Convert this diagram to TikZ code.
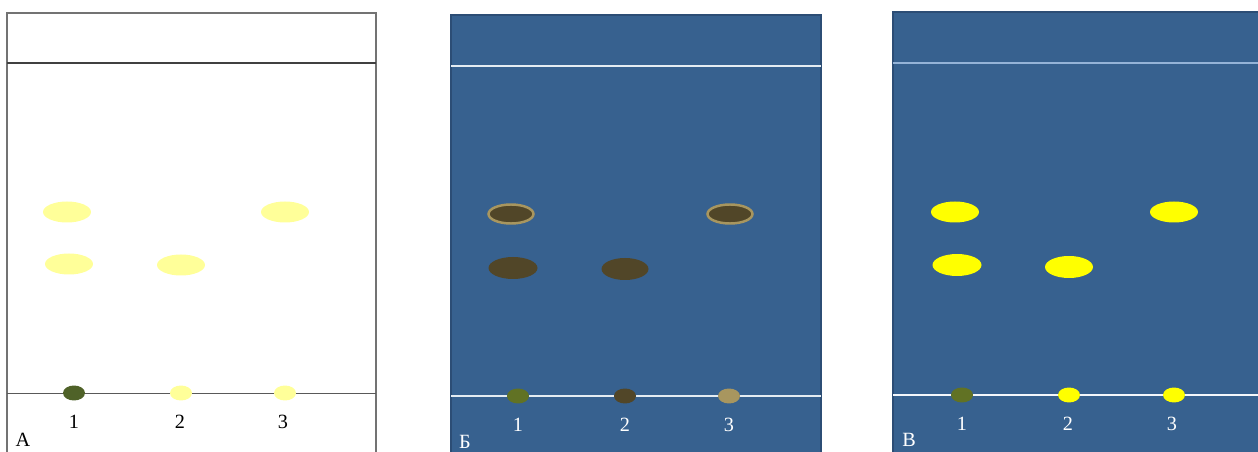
\documentclass[tikz,border=0pt]{standalone}
\usepackage{fontspec}
\setmainfont{Liberation Serif}
\usetikzlibrary{shapes.geometric}
\definecolor{paleyel}{HTML}{FFFF99}
\definecolor{olivesp}{HTML}{4F6228}
\definecolor{plate}{HTML}{37618F}
\definecolor{plateedge}{HTML}{2C4D75}
\definecolor{brownsp}{HTML}{514628}
\definecolor{tansp}{HTML}{A8965F}
\definecolor{lineB}{HTML}{E4ECF2}
\definecolor{lineV}{HTML}{95B3D7}
\definecolor{brightyel}{HTML}{FFFF00}
\tikzset{
  spot/.style={ellipse, inner sep=0pt, minimum width=0.96cm, minimum height=0.42cm},
  dot/.style={ellipse, inner sep=0pt, minimum width=0.44cm, minimum height=0.30cm},
  lab/.style={inner sep=0pt, font=\fontsize{11.5}{13}\selectfont},
}
\begin{document}
\begin{tikzpicture}[x=0.02cm,y=-0.02cm]
\useasboundingbox (0,0) rectangle (1258,452);
\fill[white] (0,0) rectangle (1258,452);
% ---------- Panel A ----------
\draw[gray!90!black, line width=0.6pt] (7,470) -- (7,13) -- (376,13) -- (376,470);
\draw[black!75, line width=0.6pt] (7,63) -- (376,63);
\draw[black!65, line width=0.5pt] (7,393) -- (376,393);
\node[spot, fill=paleyel] (a1u) at (67,212) {};
\node[spot, fill=paleyel] (a1l) at (69,264) {};
\node[spot, fill=paleyel] (a2l) at (181,265) {};
\node[spot, fill=paleyel] (a3u) at (285,212) {};
\node[dot, fill=olivesp] (a1s) at (74,393) {};
\node[dot, fill=paleyel] (a2s) at (181,393) {};
\node[dot, fill=paleyel] (a3s) at (285,393) {};
\node[lab] (a1t) at (74,422) {1};
\node[lab] (a2t) at (180,422) {2};
\node[lab] (a3t) at (283,422) {3};
\node[lab] (aL) at (23,440) {А};
% ---------- Panel B ----------
\fill[plate] (451,15) rectangle (821,470);
\draw[plateedge, line width=0.6pt] (451,470) -- (451,15) -- (821,15) -- (821,470);
\draw[lineB, line width=0.6pt] (451,66) -- (821,66);
\draw[lineB, line width=0.6pt] (451,396) -- (821,396);
\node[spot, fill=brownsp, draw=tansp, line width=1.4pt, minimum width=0.9cm, minimum height=0.38cm] (b1u) at (511,214) {};
\node[spot, fill=brownsp, draw=tansp, line width=1.4pt, minimum width=0.9cm, minimum height=0.38cm] (b3u) at (730,214) {};
\node[spot, fill=brownsp, minimum width=0.98cm, minimum height=0.44cm] (b1l) at (513,268) {};
\node[spot, fill=brownsp, minimum width=0.94cm, minimum height=0.44cm] (b2l) at (625,269) {};
\node[dot, fill=olivesp!90!yellow] (b1s) at (518,396) {};
\node[dot, fill=brownsp] (b2s) at (625,396) {};
\node[dot, fill=tansp] (b3s) at (729,396) {};
\node[lab, text=white] (b1t) at (518,425) {1};
\node[lab, text=white] (b2t) at (625,425) {2};
\node[lab, text=white] (b3t) at (729,425) {3};
\node[lab, text=white] (bL) at (465,442) {Б};
% ---------- Panel V ----------
\fill[plate] (893,12) rectangle (1270,470);
\draw[plateedge, line width=0.6pt] (893,470) -- (893,12) -- (1270,12);
\draw[lineV, line width=0.8pt] (893,63) -- (1270,63);
\draw[white!90!lineV, line width=0.6pt] (893,395) -- (1270,395);
\node[spot, fill=brightyel] (v1u) at (955,212) {};
\node[spot, fill=brightyel, minimum width=0.98cm, minimum height=0.44cm] (v1l) at (957,265) {};
\node[spot, fill=brightyel, minimum width=0.96cm, minimum height=0.44cm] (v2l) at (1069,267) {};
\node[spot, fill=brightyel] (v3u) at (1174,212) {};
\node[dot, fill=olivesp!90!yellow] (v1s) at (962,395) {};
\node[dot, fill=brightyel] (v2s) at (1069,395) {};
\node[dot, fill=brightyel] (v3s) at (1174,395) {};
\node[lab, text=white] (v1t) at (962,424) {1};
\node[lab, text=white] (v2t) at (1068,424) {2};
\node[lab, text=white] (v3t) at (1172,424) {3};
\node[lab, text=white] (vL) at (909,440) {В};
\end{tikzpicture}
\end{document}
